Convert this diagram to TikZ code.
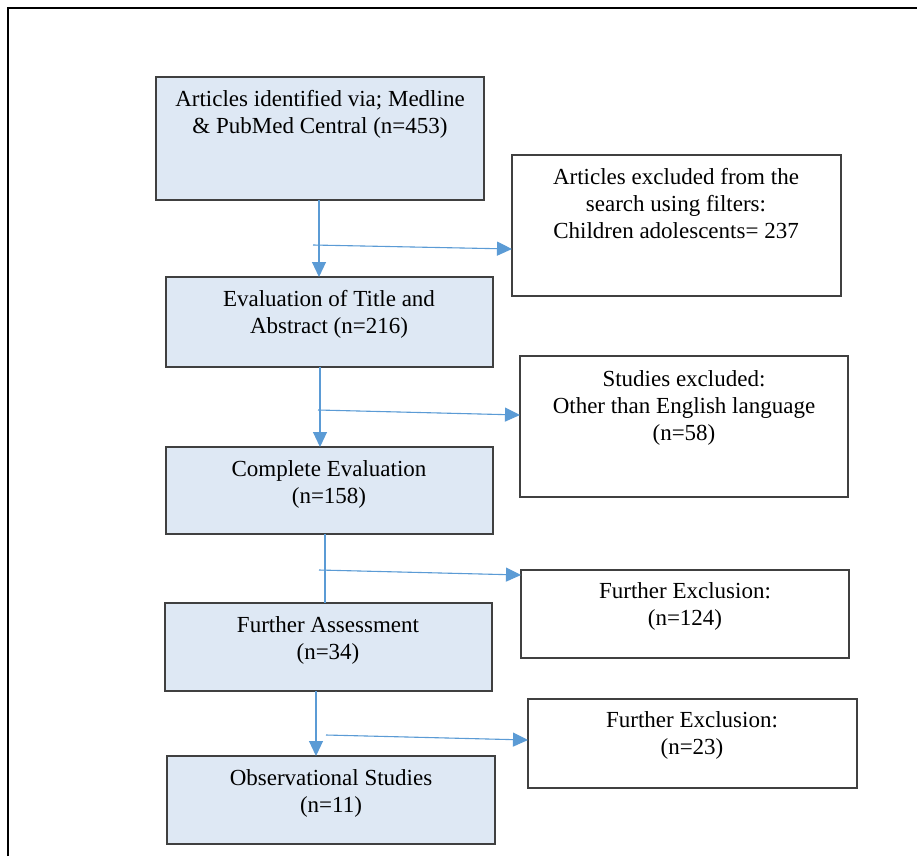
\documentclass[tikz,border=0pt]{standalone}
\usepackage{fontspec}
\setmainfont{Liberation Serif}
\usetikzlibrary{arrows.meta}
\definecolor{boxblue}{HTML}{DEE8F4}
\definecolor{arrblue}{HTML}{5B9BD5}
\definecolor{edge}{HTML}{404040}
\begin{document}
\begin{tikzpicture}[x=1pt,y=-1pt,
  mainbox/.style={draw=edge, line width=1.3pt, fill=boxblue},
  exbox/.style={draw=edge, line width=1.3pt, fill=white},
  txt/.style={anchor=north, align=center, inner sep=0pt, font=\fontsize{23}{27}\selectfont},
  flow/.style={draw=arrblue, line width=1.1pt},
  tip/.style={-{Triangle[length=15pt,width=14pt]}}
]
\useasboundingbox (0,0) rectangle (917,856);
% outer frame (left and top edges only)
\draw[line width=1.8pt] (8,856) -- (8,8) -- (917,8);

% main boxes
\path[mainbox] (156,77) rectangle (484,200);
\path[mainbox] (166,277) rectangle (493,367);
\path[mainbox] (166,447) rectangle (493,534);
\path[mainbox] (165,603) rectangle (492,691);
\path[mainbox] (167,756) rectangle (495,844);

% exclusion boxes
\path[exbox] (512,155) rectangle (841,296);
\path[exbox] (520,356) rectangle (848,497);
\path[exbox] (521,570) rectangle (849,658);
\path[exbox] (528,699) rectangle (857,788);

% texts
\node[txt] (t1) at (320,90) {Articles identified via; Medline\\\& PubMed Central (n=453)};
\node[txt] (t2) at (329,290) {Evaluation of Title and\\Abstract (n=216)};
\node[txt] (t3) at (329,460) {Complete Evaluation\\(n=158)};
\node[txt] (t4) at (328,616) {Further Assessment\\(n=34)};
\node[txt] (t5) at (331,769) {Observational Studies\\(n=11)};
\node[txt] (e1) at (676,168) {Articles excluded from the\\search using filters:\\Children adolescents= 237};
\node[txt] (e2) at (684,370) {Studies excluded:\\Other than English language\\(n=58)};
\node[txt] (e3) at (685,582) {Further Exclusion:\\(n=124)};
\node[txt] (e4) at (692,711) {Further Exclusion:\\(n=23)};

% coordinates for connectors
\coordinate (v1a) at (319,200); \coordinate (v1b) at (319,277);
\coordinate (h1a) at (313,245); \coordinate (h1b) at (512,249);
\coordinate (v2a) at (320,367); \coordinate (v2b) at (320,447);
\coordinate (h2a) at (318,410); \coordinate (h2b) at (520,415);
\coordinate (v3a) at (325,534); \coordinate (v3b) at (325,603);
\coordinate (h3a) at (319,570); \coordinate (h3b) at (521,575);
\coordinate (v4a) at (316,691); \coordinate (v4b) at (316,756);
\coordinate (h4a) at (326,735); \coordinate (h4b) at (528,740);

\draw[flow, tip, fill=arrblue] (v1a) -- (v1b);
\draw[flow, tip, fill=arrblue] (h1a) -- (h1b);
\draw[flow, tip, fill=arrblue] (v2a) -- (v2b);
\draw[flow, tip, fill=arrblue] (h2a) -- (h2b);
\draw[flow] (v3a) -- (v3b);
\draw[flow, tip, fill=arrblue] (h3a) -- (h3b);
\draw[flow, tip, fill=arrblue] (v4a) -- (v4b);
\draw[flow, tip, fill=arrblue] (h4a) -- (h4b);
\end{tikzpicture}
\end{document}
